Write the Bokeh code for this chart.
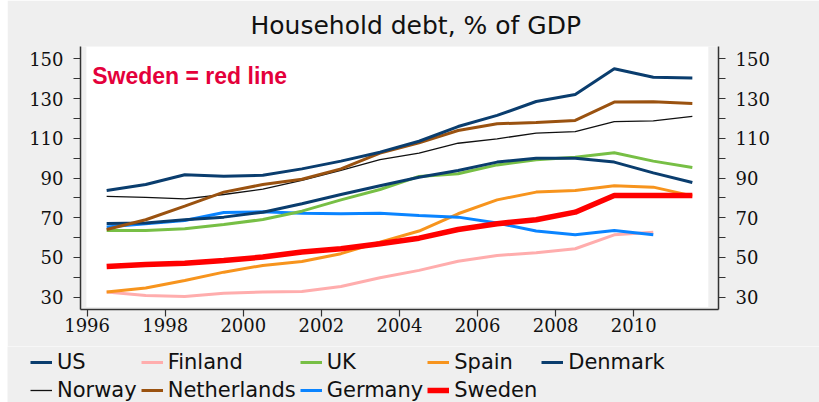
from bokeh.plotting import figure
from bokeh.layouts import column, row
from bokeh.models import (Range1d, LinearAxis, FixedTicker, BoxAnnotation, Label,
                          Legend, LegendItem)
from bokeh.embed import file_html
from bokeh.resources import INLINE

# ---- data (household debt, % of GDP) ----
years = [1996.5 + i for i in range(16)]
us = [67.1, 67.3, 69.0, 70.3, 72.8, 77.0, 81.7, 86.1, 90.4, 93.8, 98.0, 100.0, 100.0, 98.0, 92.6, 87.7]
finland = [32.6, 30.9, 30.4, 32.0, 32.6, 32.9, 35.4, 39.8, 43.5, 48.1, 51.0, 52.4, 54.4, 61.4, 62.7]
uk = [63.6, 63.6, 64.4, 66.6, 69.1, 73.3, 79.0, 84.2, 90.8, 92.1, 96.6, 99.2, 100.5, 102.7, 98.5, 95.3]
spain = [32.6, 34.6, 38.4, 42.6, 46.0, 48.0, 51.9, 57.7, 63.3, 72.0, 79.0, 82.9, 83.7, 86.1, 85.4, 81.0]
denmark = [83.7, 86.7, 91.6, 90.9, 91.4, 94.6, 98.5, 103.0, 108.5, 115.9, 121.5, 128.5, 132.0, 145.0, 140.7, 140.4]
norway = [80.7, 80.2, 79.5, 81.7, 84.4, 88.8, 93.8, 99.3, 102.5, 107.5, 109.7, 112.6, 113.3, 118.4, 118.8, 121.0]
netherlands = [64.1, 69.0, 75.8, 82.9, 86.7, 89.4, 94.6, 102.5, 107.7, 113.9, 117.3, 118.0, 119.0, 128.2, 128.4, 127.5]
germany = [65.3, 67.0, 68.6, 72.6, 73.0, 72.3, 72.0, 72.3, 71.1, 70.3, 67.3, 63.3, 61.4, 63.6, 61.4]
sweden = [45.5, 46.5, 47.1, 48.5, 50.2, 52.7, 54.4, 56.9, 59.7, 64.1, 67.0, 69.0, 72.8, 81.2, 81.2, 81.2]

x_ticks = [1996, 1998, 2000, 2002, 2004, 2006, 2008, 2010]
y_ticks = [30, 50, 70, 90, 110, 130, 150]
y_minor = [40, 60, 80, 100, 120, 140]

GREY = "#efefef"
TICK_FONT = "DejaVu Serif"
SANS = "DejaVu Sans"

series = [
    ("US", us, "#0a3d6e", 3),
    ("Finland", finland, "#ffadad", 3),
    ("UK", uk, "#77bf45", 3),
    ("Spain", spain, "#f7941d", 3),
    ("Denmark", denmark, "#0a3d6e", 3),
    ("Norway", norway, "#111111", 1.3),
    ("Netherlands", netherlands, "#9a5210", 3),
    ("Germany", germany, "#0a84ff", 3),
    ("Sweden", sweden, "#ff0000", 5.5),
]
lookup = {s[0]: s for s in series}

p = figure(width=812, height=346, margin=(0, 0, 0, 7), output_backend="svg", toolbar_location=None,
           x_range=Range1d(1995.83, 2012.17), y_range=Range1d(23.8, 156.2),
           min_border_left=73, min_border_right=101, min_border_top=46, min_border_bottom=37,
           background_fill_color=GREY, border_fill_color=GREY, outline_line_color=None)

p.title.text = "Household debt, % of GDP"
p.title.align = "left"
p.title.offset = 170
p.title.text_font = SANS
p.title.text_font_size = "25px"
p.title.text_font_style = "normal"
p.title.text_color = "#111111"
p.title.standoff = 13

p.xgrid.visible = False
p.ygrid.visible = False

# white panel inside the frame
p.add_layout(BoxAnnotation(left=1995.98, right=2011.91, bottom=25.0, fill_color="white",
                           fill_alpha=1.0, line_alpha=0, level="underlay"))

def style_axis(ax):
    ax.axis_line_color = "#333333"
    ax.axis_line_width = 1.5
    ax.major_tick_line_color = "#333333"
    ax.minor_tick_line_color = "#333333"
    ax.major_tick_line_width = 1.2
    ax.minor_tick_line_width = 1.2
    ax.major_tick_in = 0
    ax.major_tick_out = 7
    ax.minor_tick_in = 0
    ax.minor_tick_out = 7
    ax.major_label_text_font = TICK_FONT
    ax.major_label_text_font_size = "18px"
    ax.major_label_text_color = "#111111"

p.xaxis.ticker = FixedTicker(ticks=x_ticks)
style_axis(p.xaxis[0])
p.xaxis.minor_tick_out = 0
p.xaxis.major_label_standoff = 1

p.yaxis.ticker = FixedTicker(ticks=y_ticks, minor_ticks=y_minor)
style_axis(p.yaxis[0])
p.yaxis.major_label_standoff = 10

ra = LinearAxis(ticker=FixedTicker(ticks=y_ticks, minor_ticks=y_minor))
style_axis(ra)
ra.major_label_standoff = 10
p.add_layout(ra, "right")

draw_order = ["Finland", "Spain", "Germany", "UK", "US", "Norway", "Netherlands", "Denmark", "Sweden"]
for name in draw_order:
    _, vals, col, w = lookup[name]
    p.line(years[:len(vals)], vals, line_color=col, line_width=w)

p.add_layout(Label(x=1996.13, y=141.2, text="Sweden = red line", text_font="Liberation Sans",
                   text_font_style="bold", text_font_size="23px", text_color="#e4003b",
                   text_baseline="alphabetic"))

# ---- legend strip (separate figure, same series; data lies outside its view) ----
lg = figure(width=812, height=56, margin=(0, 0, 0, 7), output_backend="svg", toolbar_location=None,
            x_range=Range1d(0, 1), y_range=Range1d(0, 1), x_axis_type=None, y_axis_type=None,
            min_border=0, min_border_left=0, min_border_right=0, min_border_top=0, min_border_bottom=0,
            background_fill_color=GREY, border_fill_color=GREY, outline_line_color=None)
lg.xgrid.visible = False
lg.ygrid.visible = False
items = []
for name, vals, col, w in series:
    r = lg.line(years[:len(vals)], vals, line_color=col, line_width=w)
    items.append(LegendItem(label=name, renderers=[r]))
legend = Legend(items=items, ncols=5, orientation="horizontal",
                location=(23, 0), padding=0, margin=0, spacing=4,
                glyph_width=22, glyph_height=20, label_height=21, label_standoff=5,
                label_text_font=SANS, label_text_font_size="21px", label_text_color="#111111",
                background_fill_alpha=0, border_line_alpha=0, inactive_fill_alpha=0)
lg.add_layout(legend, "center")

layout = column(p, row(lg, spacing=0), spacing=0)
open("out.html", "w").write(file_html(layout, INLINE))
